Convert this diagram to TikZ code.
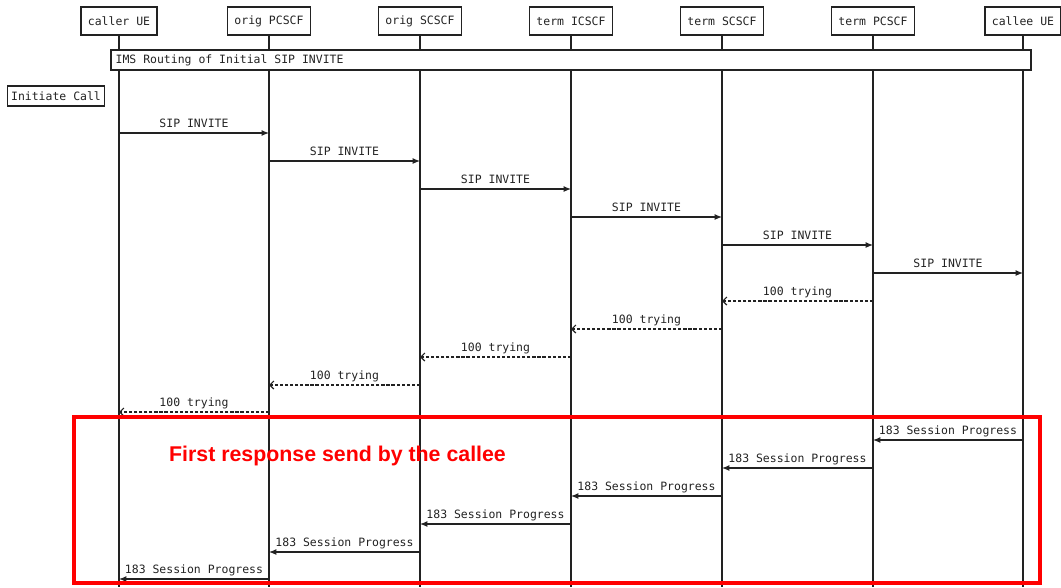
\documentclass[tikz,border=0pt]{standalone}
\usepackage{fontspec}
\newfontfamily\monof{DejaVu Sans Mono}
\newfontfamily\redf{Liberation Sans}
\usetikzlibrary{arrows.meta,calc}
\definecolor{ln}{HTML}{222222}
\definecolor{hl}{HTML}{FF0000}
\begin{document}
\begin{tikzpicture}[x=0.75pt,y=-0.75pt,
  mono/.style={font=\monof\fontsize{8.6}{10}\selectfont, text=ln},
  hdr/.style={mono, draw=ln, line width=0.9pt, fill=white, minimum height=21pt, inner xsep=5.2pt},
  box/.style={mono, draw=ln, line width=0.9pt, fill=white, minimum height=15pt, inner xsep=3pt},
  life/.style={draw=ln, line width=0.9pt},
  sol/.style={draw=ln, line width=0.9pt, -{Latex[length=5.5pt,width=4.5pt]}},
  das/.style={draw=ln, line width=0.9pt, dash pattern=on 2.4pt off 1.4pt, -{Straight Barb[length=3pt,width=6pt]}},
  lab/.style={mono, midway, anchor=base, yshift=3.9pt, inner sep=0pt}]
\useasboundingbox (0,0) rectangle (1061,587);
\coordinate (bot) at (0,587);
\node[hdr] (L1) at (119,21) {caller UE};
\node[hdr] (L2) at (269,21) {orig PCSCF};
\node[hdr] (L3) at (420,21) {orig SCSCF};
\node[hdr] (L4) at (571,21) {term ICSCF};
\node[hdr] (L5) at (722,21) {term SCSCF};
\node[hdr] (L6) at (873,21) {term PCSCF};
\node[hdr] (L7) at (1023,21) {callee UE};
\foreach \n in {L1,L2,L3,L4,L5,L6,L7}
  \draw[life] (\n.south) -- (\n.south |- bot);
\node[box, minimum width=690pt] (ims) at (571,60) {};
\node[mono, anchor=west, inner sep=0pt] (imst) at ([xshift=3.75pt]ims.west) {IMS Routing of Initial SIP INVITE};
\node[box] (ic) at (56,96) {Initiate Call};
\foreach \a/\b/\y/\t/\s in {
  L1/L2/133/SIP INVITE/sol,
  L2/L3/161/SIP INVITE/sol,
  L3/L4/189/SIP INVITE/sol,
  L4/L5/217/SIP INVITE/sol,
  L5/L6/245/SIP INVITE/sol,
  L6/L7/273/SIP INVITE/sol,
  L6/L5/301/100 trying/das,
  L5/L4/329/100 trying/das,
  L4/L3/357/100 trying/das,
  L3/L2/385/100 trying/das,
  L2/L1/412/100 trying/das,
  L7/L6/440/183 Session Progress/sol,
  L6/L5/468/183 Session Progress/sol,
  L5/L4/496/183 Session Progress/sol,
  L4/L3/524/183 Session Progress/sol,
  L3/L2/552/183 Session Progress/sol,
  L2/L1/579/183 Session Progress/sol}
{
  \coordinate (my) at (0,\y);
  \draw[\s] (\a |- my) -- (\b |- my) node[lab] {\t};
}
\draw[draw=hl, line width=3pt] (74,417) rectangle (1040,583);
\node[font=\redf\bfseries\fontsize{16}{19}\selectfont, text=hl, anchor=base, inner sep=0pt] (note) at (337.5,461) {First response send by the callee};
\end{tikzpicture}
\end{document}
